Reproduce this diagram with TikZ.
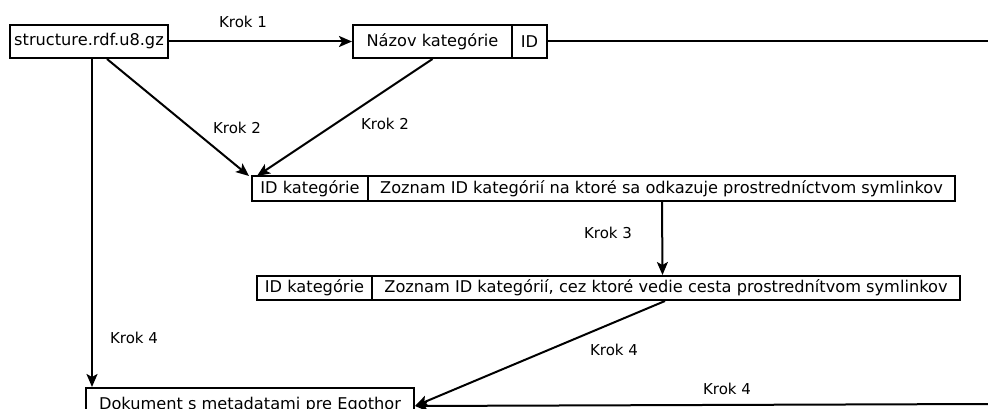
\documentclass[tikz,border=0pt]{standalone}
\usepackage{fontspec}
\setmainfont{DejaVu Sans}
\usetikzlibrary{arrows.meta}
\begin{document}
\begin{tikzpicture}[x=1pt,y=-1pt,
  box/.style={draw,line width=2pt,rectangle,inner sep=0pt,font=\fontsize{16.2}{18}\selectfont},
  lbl/.style={inner sep=0pt,font=\fontsize{15}{17}\selectfont},
  conn/.style={line width=2pt},
  arr/.style={conn,-{Stealth[length=13pt,width=11pt,inset=3pt]}}]
\clip (0,0) rectangle (988,409);
\useasboundingbox (0,0) rectangle (988,409);
% top row
\node[box,minimum width=158pt,minimum height=33pt] (src) at (89,41.5) {structure.rdf.u8.gz};
\node[box,minimum width=159pt,minimum height=33pt] (naz) at (432.5,41.5) {Názov kategórie};
\node[box,minimum width=35pt,minimum height=33pt] (nid) at (529.5,41.5) {ID};
\coordinate (rtop) at (988,41.5);
% first table row
\node[box,minimum width=116pt,minimum height=25pt] (ka) at (310,188.5) {ID kategórie};
\node[box,minimum width=587pt,minimum height=25pt] (za) at (661.5,188.5) {Zoznam ID kategórií na ktoré sa odkazuje prostredníctvom symlinkov};
% second table row
\node[box,minimum width=115pt,minimum height=24pt] (kb) at (314.5,288) {ID kategórie};
\node[box,minimum width=588pt,minimum height=24pt] (zb) at (666,288) {Zoznam ID kategórií, cez ktoré vedie cesta prostrednítvom symlinkov};
% resulting document
\node[box,minimum width=328pt,minimum height=34pt] (doc) at (250,405) {Dokument s metadatami pre Egothor};
\coordinate (rbot) at (988,404);
% connectors
\draw[arr] (src.east) -- (naz.west);
\draw[conn] (nid.east) -- (rtop);
\draw[arr] ([xshift=98pt]src.south west) -- ([xshift=-2pt,yshift=-1pt]ka.north west);
\draw[arr] (naz.south) -- ([xshift=6pt,yshift=-1pt]ka.north west);
\draw[arr] ([xshift=83pt]src.south west) -- ([xshift=7pt]doc.north west);
\draw[arr] ([xshift=0.5pt]za.south) -- ([xshift=-3.5pt]zb.north);
\draw[arr] ([xshift=-1pt]zb.south) -- ([yshift=-1pt]doc.east);
\draw[arr] (rbot) -- ([yshift=-1pt]doc.east);
% step labels
\node[lbl] (k1) at (243,22) {Krok 1};
\node[lbl] (k2a) at (237,128) {Krok 2};
\node[lbl] (k2b) at (385,124) {Krok 2};
\node[lbl] (k3) at (608,233) {Krok 3};
\node[lbl] (k4a) at (134,338) {Krok 4};
\node[lbl] (k4b) at (614,350) {Krok 4};
\node[lbl] (k4c) at (727,389) {Krok 4};
\end{tikzpicture}
\end{document}
